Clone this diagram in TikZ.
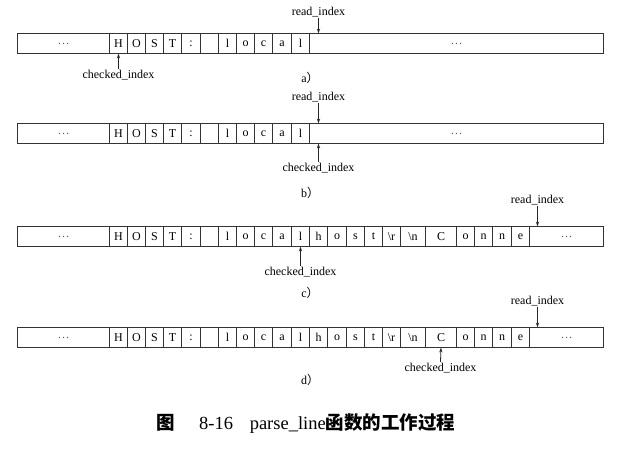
\documentclass[tikz,border=0pt]{standalone}
\usepackage{fontspec}
\setmainfont{Liberation Serif}
\newfontfamily\cjk{Noto Sans CJK SC}
\usetikzlibrary{arrows.meta}
\newcommand\dotsym{\textcolor{black!65}{\ldots}}
\newcommand\bufrow[3]{%
  \foreach \l/\r/\t [count=\i] in {#3} {%
    \pgfmathsetmacro\w{\r-\l}%
    \pgfmathsetmacro\cx{(\l+\r)/2}%
    \node[cellbox, minimum width=\w pt] (#1\i) at (\cx, #2+10) {\t};
  }}
\begin{document}
\begin{tikzpicture}[x=1pt,y=-1pt,
  font=\fontsize{12}{14}\selectfont,
  cellbox/.style={draw=black!80, line width=1pt, minimum height=20pt, inner sep=0pt, outer sep=0pt},
  ptr/.style={-{Stealth[length=5pt,width=3.2pt]}, line width=0.8pt, draw=black!85},
  lbl/.style={inner sep=1pt}]
\useasboundingbox (0,0) rectangle (625,451);
\fill[white] (0,0) rectangle (625,451);

% row a
\bufrow{a}{33.5}{17.5/109.5/\dotsym, 109.5/127.5/H, 127.5/145.5/O, 145.5/163.5/S, 163.5/181.5/T, 181.5/200.5/:, 200.5/218.5/{}, 218.5/236.5/l, 236.5/254.5/o, 254.5/272.5/c, 272.5/291.5/a, 291.5/309.5/l, 309.5/603.5/\dotsym}
\node[lbl] (ra) at (318.5,12) {read\_index};
\draw[ptr] (ra.south) -- (ra.south |- a13.north);
\node[lbl] (ca) at (118.5,75) {checked\_index};
\draw[ptr] (ca.north) -- (a2.south);
\node (la) at (310,78) {a\cjk）};

% row b
\bufrow{b}{123.5}{17.5/109.5/\dotsym, 109.5/127.5/H, 127.5/145.5/O, 145.5/163.5/S, 163.5/181.5/T, 181.5/200.5/:, 200.5/218.5/{}, 218.5/236.5/l, 236.5/254.5/o, 254.5/272.5/c, 272.5/291.5/a, 291.5/309.5/l, 309.5/603.5/\dotsym}
\node[lbl] (rb) at (318.5,97) {read\_index};
\draw[ptr] (rb.south) -- (rb.south |- b13.north);
\node[lbl] (cb) at (318.5,168) {checked\_index};
\draw[ptr] (cb.north) -- (cb.north |- b13.south);
\node (lb) at (310,193) {b\cjk）};

% row c
\bufrow{c}{226.5}{17.5/109.5/\dotsym, 109.5/127.5/H, 127.5/145.5/O, 145.5/163.5/S, 163.5/181.5/T, 181.5/200.5/:, 200.5/218.5/{}, 218.5/236.5/l, 236.5/254.5/o, 254.5/272.5/c, 272.5/291.5/a, 291.5/309.5/l, 309.5/327.5/h, 327.5/346.5/o, 346.5/364.5/s, 364.5/382.5/t, 382.5/400.5/\textbackslash r, 400.5/425.5/\textbackslash n, 425.5/456.5/C, 456.5/474.5/o, 474.5/492.5/n, 492.5/511.5/n, 511.5/529.5/e, 529.5/603.5/\dotsym}
\node[lbl] (rc) at (537.5,200) {read\_index};
\draw[ptr] (rc.south) -- (rc.south |- c24.north);
\node[lbl] (cc) at (300.5,272) {checked\_index};
\draw[ptr] (cc.north) -- (c12.south);
\node (lc) at (310,293) {c\cjk）};

% row d
\bufrow{d}{327.5}{17.5/109.5/\dotsym, 109.5/127.5/H, 127.5/145.5/O, 145.5/163.5/S, 163.5/181.5/T, 181.5/200.5/:, 200.5/218.5/{}, 218.5/236.5/l, 236.5/254.5/o, 254.5/272.5/c, 272.5/291.5/a, 291.5/309.5/l, 309.5/327.5/h, 327.5/346.5/o, 346.5/364.5/s, 364.5/382.5/t, 382.5/400.5/\textbackslash r, 400.5/425.5/\textbackslash n, 425.5/456.5/C, 456.5/474.5/o, 474.5/492.5/n, 492.5/511.5/n, 511.5/529.5/e, 529.5/603.5/\dotsym}
\node[lbl] (rd) at (537.5,301) {read\_index};
\draw[ptr] (rd.south) -- (rd.south |- d24.north);
\node[lbl] (cd) at (440.5,368) {checked\_index};
\draw[ptr] (cd.north) -- (d19.south);
\node (ld) at (310,380) {d\cjk）};

% caption
\node[font=\fontsize{18.5}{20}\selectfont] (cap) at (306,424) {{\cjk\bfseries 图}\hspace{1.3em}8-16\hspace{0.9em}parse\_line{\cjk\bfseries 函数的工作过程}};
\end{tikzpicture}
\end{document}
